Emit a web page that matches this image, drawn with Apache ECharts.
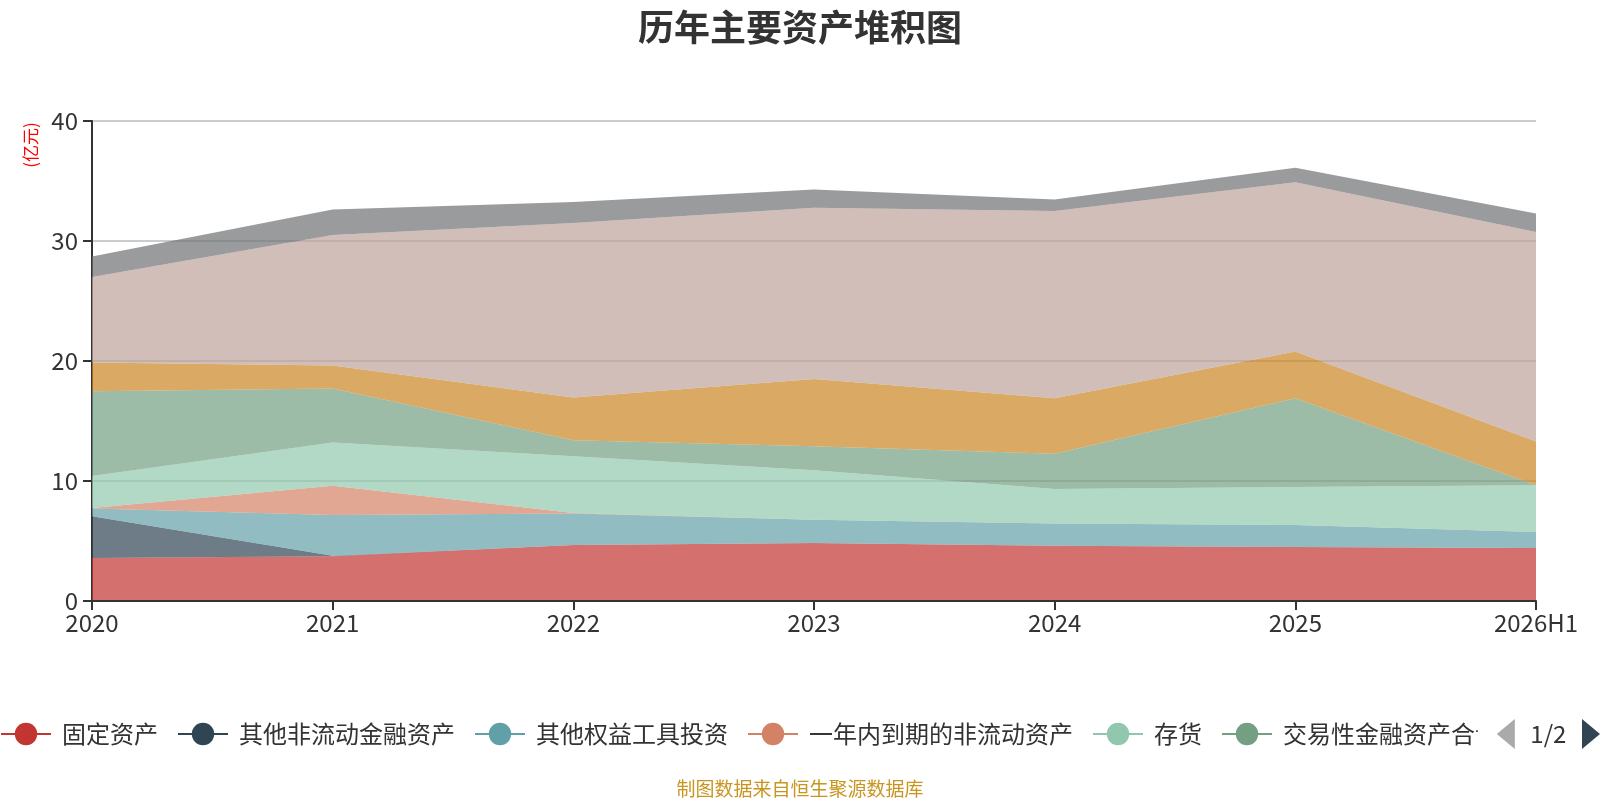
<!DOCTYPE html>
<html>
<head>
<meta charset="utf-8">
<script src="https://cdn.jsdelivr.net/npm/echarts@6/dist/echarts.min.js"></script>
<style>
html,body{margin:0;padding:0;background:#fff;}
#chart{width:1600px;height:800px;}
</style>
</head>
<body>
<div id="chart"></div>
<script>
const categories = ['2020','2021','2022','2023','2024','2025','2026H1'];
const seriesNames = ['固定资产','其他非流动金融资产','其他权益工具投资','一年内到期的非流动资产','存货','交易性金融资产合计','应收账款','货币资金','其他'];
const fixedAssets     = [3.58, 3.72, 4.67, 4.84, 4.61, 4.50, 4.42];
const otherNonCurFin  = [3.48, 0.05, 0, 0, 0, 0, 0];
const otherEquityInv  = [0.64, 3.40, 2.63, 1.94, 1.84, 1.83, 1.33];
const dueWithinYear   = [0.05, 2.44, 0.03, 0, 0, 0, 0];
const inventory       = [2.67, 3.59, 4.73, 4.12, 2.89, 3.17, 3.89];
const tradingFinAsset = [7.05, 4.50, 1.33, 2.00, 2.94, 7.40, 0];
const receivables     = [2.40, 1.93, 3.56, 5.60, 4.62, 3.90, 3.66];
const cash            = [7.13, 10.87, 14.55, 14.28, 15.60, 14.10, 17.45];
const others          = [1.70, 2.13, 1.75, 1.52, 0.95, 1.20, 1.55];
const yTicks = [0, 10, 20, 30, 40];

const dataList = [fixedAssets, otherNonCurFin, otherEquityInv, dueWithinYear, inventory, tradingFinAsset, receivables, cash, others];
const colors = ['#c23531','#2f4554','#61a0a8','#d48265','#91c7ae','#749f83','#ca8622','#bda29a','#6e7074'];

const chart = echarts.init(document.getElementById('chart'));
const font = 'Noto Sans CJK SC';
chart.setOption({
  color: colors,
  textStyle: { fontFamily: font },
  animation: false,
  title: {
    text: '历年主要资产堆积图',
    left: 'center',
    top: 4,
    textStyle: { fontSize: 36, fontWeight: 'bold', color: '#333', fontFamily: font }
  },
  grid: { left: 92, right: 64, top: 121, bottom: 199 },
  legend: {
    type: 'scroll',
    left: 0,
    right: 0,
    top: 719,
    padding: 0,
    itemWidth: 50,
    itemHeight: 28,
    itemGap: 19,
    lineStyle: { width: 2 },
    textStyle: { fontSize: 24, color: '#333', fontFamily: font, padding: [0, 0, 0, 6] },
    pageIconSize: 30,
    pageTextStyle: { fontSize: 24, color: '#333' },
    pageIconColor: '#2f4554',
    pageIconInactiveColor: '#aaa',
    data: seriesNames
  },
  xAxis: {
    type: 'category',
    boundaryGap: false,
    data: categories,
    z: 3,
    axisLine: { show: true, lineStyle: { color: '#333', width: 2 } },
    axisTick: { show: true, alignWithLabel: true, length: 9, lineStyle: { color: '#333', width: 2 } },
    axisLabel: { fontSize: 24, color: '#333', margin: 10 }
  },
  yAxis: {
    type: 'value',
    min: yTicks[0],
    max: yTicks[yTicks.length - 1],
    interval: 10,
    axisLine: { show: true, lineStyle: { color: '#333', width: 2 } },
    axisTick: { show: true, length: 9, lineStyle: { color: '#333', width: 2 } },
    axisLabel: { fontSize: 24, color: '#333', margin: 14 },
    splitLine: { show: true, lineStyle: { color: '#ccc', width: 2 } }
  },
  graphic: [
    {
      type: 'text', x: 31, y: 145, rotation: Math.PI / 2,
      style: { text: '(亿元)', fill: '#ff0000', font: '17px "Noto Sans CJK SC"', textAlign: 'center', textVerticalAlign: 'middle' }
    },
    {
      type: 'text', x: 800, y: 789,
      style: { text: '制图数据来自恒生聚源数据库', fill: '#c8951f', font: '19px "Noto Sans CJK SC"', textAlign: 'center', textVerticalAlign: 'middle' }
    }
  ],
  series: seriesNames.map((name, i) => ({
    name: name,
    type: 'line',
    stack: 'total',
    data: dataList[i],
    symbol: 'circle',
    showSymbol: false,
    lineStyle: { width: 0 },
    areaStyle: { opacity: 0.7 }
  }))
});
</script>
</body>
</html>
